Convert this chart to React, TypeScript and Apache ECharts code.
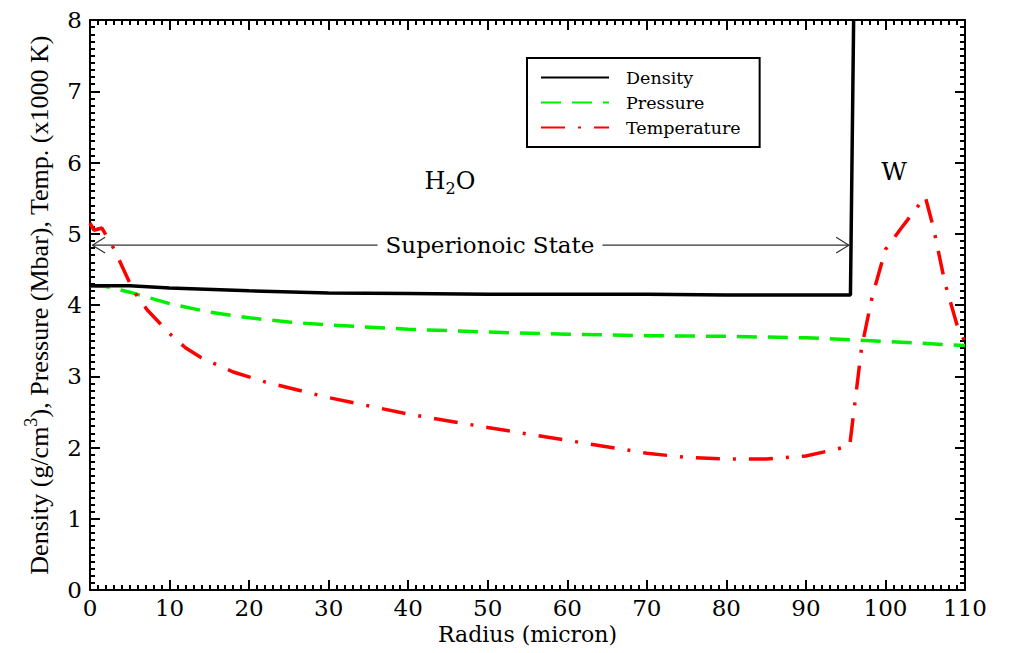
import React, { useEffect, useRef } from "react";
import * as echarts from "echarts";

const xTicks = [0, 10, 20, 30, 40, 50, 60, 70, 80, 90, 100, 110];
const yTicks = [0, 1, 2, 3, 4, 5, 6, 7, 8];

const densityR = [0, 5, 10, 20, 30, 40, 50, 60, 70, 80, 90, 95.6, 96.0];
const densityV = [4.27, 4.27, 4.24, 4.2, 4.17, 4.16, 4.15, 4.15, 4.15, 4.14, 4.14, 4.14, 8.0];

const pressureR = [0, 2, 5, 10, 15, 20, 25, 30, 40, 50, 60, 70, 80, 90, 100, 110];
const pressureV = [4.27, 4.26, 4.18, 4.02, 3.9, 3.82, 3.76, 3.72, 3.66, 3.62, 3.59, 3.57, 3.56, 3.54, 3.49, 3.43];

const tempR = [0, 0.5, 1.5, 3.1, 5.4, 7.2, 10, 12, 14, 18, 22, 30, 40, 50, 60, 70, 75, 80, 85, 90, 95.5, 97, 98.3, 100, 102, 105, 106, 107.5, 109, 110];
const tempV = [5.15, 5.05, 5.08, 4.77, 4.21, 3.93, 3.6, 3.4, 3.26, 3.06, 2.92, 2.7, 2.47, 2.28, 2.1, 1.92, 1.86, 1.84, 1.84, 1.88, 2.02, 3.4, 4.1, 4.78, 5.08, 5.52, 5.1, 4.3, 3.72, 3.48];

// "Superionoic State" arrow span (radius range and level)
const arrowSpan = [0.3, 95.4];
const arrowLevel = 4.84;

const WIDE = "'DejaVu Serif', 'Liberation Serif', serif";
const TIMES = "'Liberation Serif', 'DejaVu Serif', serif";

const zip = (xs: number[], ys: number[]) => xs.map((x, i) => [x, ys[i]]);

export default function App() {
  const ref = useRef<HTMLDivElement>(null);
  useEffect(() => {
    if (!ref.current) return;
    const chart = echarts.init(ref.current, undefined, { renderer: "svg" });
    const headDx = 1.6;
    const headDy = 0.11;
    const axisCommon = {
      type: "value" as const,
      axisLine: { show: true, onZero: false, lineStyle: { color: "#000", width: 2 } },
      axisTick: { show: true, inside: true, length: 10, lineStyle: { color: "#000", width: 2 } },
      minorTick: { show: true, splitNumber: 10, length: 5, lineStyle: { color: "#000", width: 2 } },
      splitLine: { show: false },
    };
    chart.setOption({
      animation: false,
      backgroundColor: "#fff",
      grid: { left: 90, right: 44, top: 20, bottom: 63 },
      legend: {
        data: ["Density", "Pressure", "Temperature"],
        orient: "vertical",
        left: 527,
        top: 58,
        itemWidth: 68,
        itemHeight: 14,
        itemGap: 6,
        padding: [10, 19, 10, 13],
        borderColor: "#000",
        borderWidth: 2,
        itemStyle: { opacity: 0 },
        textStyle: { fontFamily: WIDE, fontSize: 17.5, lineHeight: 19, color: "#000", padding: [0, 0, 0, 12] },
      },
      xAxis: [
        {
          ...axisCommon,
          min: 0,
          max: 110,
          interval: 10,
          position: "bottom",
          name: "Radius (micron)",
          nameLocation: "middle",
          nameGap: 33,
          nameTextStyle: { fontFamily: WIDE, fontSize: 22, color: "#000" },
          axisLabel: { fontFamily: WIDE, fontSize: 23, color: "#000", margin: 6 },
        },
        {
          ...axisCommon,
          min: 0,
          max: 110,
          interval: 10,
          position: "top",
          axisLabel: { show: false },
        },
      ],
      yAxis: [
        {
          ...axisCommon,
          min: 0,
          max: 8,
          interval: 1,
          position: "left",
          name: "{n|Density (g/cm}{s|3}{n|), Pressure (Mbar), Temp. (x1000 K)}",
          nameLocation: "middle",
          nameGap: 34,
          nameTextStyle: {
            fontFamily: TIMES,
            fontSize: 26,
            color: "#000",
            rich: {
              n: { fontFamily: TIMES, fontSize: 26, color: "#000" },
              s: { fontFamily: TIMES, fontSize: 18, color: "#000", padding: [0, 0, 16, 0] },
            },
          },
          axisLabel: { fontFamily: WIDE, fontSize: 23, color: "#000", margin: 8 },
        },
        {
          ...axisCommon,
          min: 0,
          max: 8,
          interval: 1,
          position: "right",
          axisLabel: { show: false },
        },
      ],
      series: [
        {
          name: "Density",
          type: "line",
          data: zip(densityR, densityV),
          symbol: "none",
          clip: true,
          lineStyle: { color: "#000", width: 3.5, type: "solid" },
          itemStyle: { color: "#000" },
          z: 5,
        },
        {
          name: "Pressure",
          type: "line",
          data: zip(pressureR, pressureV),
          symbol: "none",
          clip: true,
          lineStyle: { color: "#00ee00", width: 3.5, type: [20, 11] },
          itemStyle: { color: "#00ee00" },
          z: 4,
        },
        {
          name: "Temperature",
          type: "line",
          data: zip(tempR, tempV),
          symbol: "none",
          clip: true,
          lineStyle: { color: "#ff0000", width: 3.5, type: [24, 13, 3, 13] },
          itemStyle: { color: "#ff0000" },
          z: 6,
        },
        {
          name: "arrowShaft",
          type: "line",
          data: [[arrowSpan[0], arrowLevel], [arrowSpan[1], arrowLevel]],
          symbol: "none",
          silent: true,
          lineStyle: { color: "#333", width: 1.2 },
          z: 3,
        },
        {
          name: "arrowLeft",
          type: "line",
          data: [
            [arrowSpan[0] + headDx, arrowLevel + headDy],
            [arrowSpan[0], arrowLevel],
            [arrowSpan[0] + headDx, arrowLevel - headDy],
          ],
          symbol: "none",
          silent: true,
          lineStyle: { color: "#333", width: 1.2 },
          z: 3,
        },
        {
          name: "arrowRight",
          type: "line",
          data: [
            [arrowSpan[1] - headDx, arrowLevel + headDy],
            [arrowSpan[1], arrowLevel],
            [arrowSpan[1] - headDx, arrowLevel - headDy],
          ],
          symbol: "none",
          silent: true,
          lineStyle: { color: "#333", width: 1.2 },
          z: 3,
        },
      ],
      graphic: [
        {
          type: "text",
          x: 450,
          y: 181,
          z: 100,
          style: {
            text: "{b|H}{sub|2}{b|O}",
            align: "center",
            verticalAlign: "middle",
            rich: {
              b: { fontFamily: WIDE, fontSize: 24, fill: "#000" },
              sub: { fontFamily: WIDE, fontSize: 16, fill: "#000", padding: [14, 0, 0, 0] },
            },
          },
        },
        {
          type: "text",
          x: 894,
          y: 171,
          z: 100,
          style: {
            text: "W",
            align: "center",
            verticalAlign: "middle",
            fontFamily: WIDE,
            fontSize: 25,
            fill: "#000",
          },
        },
        {
          type: "text",
          x: 490,
          y: 245,
          z: 100,
          style: {
            text: "Superionoic State",
            align: "center",
            verticalAlign: "middle",
            fontFamily: WIDE,
            fontSize: 23,
            fill: "#000",
            backgroundColor: "#fff",
            padding: [0, 8, 0, 8],
          },
        },
      ],
    });
    return () => chart.dispose();
  }, []);
  return (
    <div
      ref={ref}
      style={{ position: "fixed", left: 0, top: 0, width: 1009, height: 653 }}
    />
  );
}
